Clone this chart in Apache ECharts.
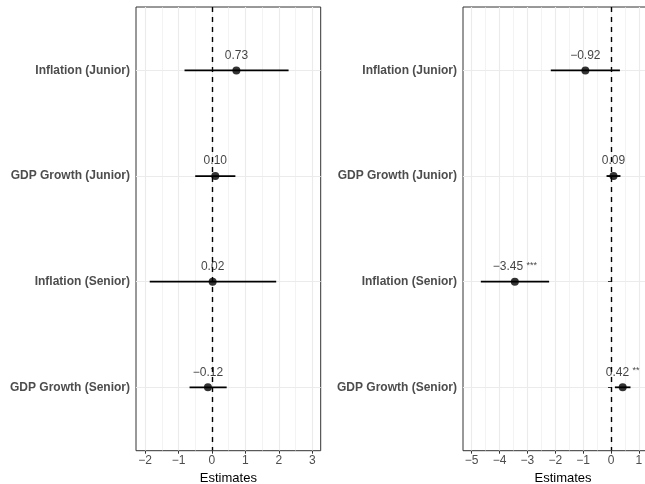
<!DOCTYPE html>
<html>
<head>
<meta charset="utf-8">
<script src="https://cdn.jsdelivr.net/npm/echarts@6/dist/echarts.min.js"></script>
<style>
html,body{margin:0;padding:0;background:#fff;}
#c{width:645px;height:484px;}
</style>
</head>
<body>
<div id="c"></div>
<script>
const categories = ['Inflation (Junior)', 'GDP Growth (Junior)', 'Inflation (Senior)', 'GDP Growth (Senior)'];
const leftEst = [0.73, 0.10, 0.02, -0.12];
const leftLow = [-0.82, -0.50, -1.86, -0.67];
const leftHigh = [2.29, 0.70, 1.92, 0.44];
const leftStars = ['', '', '', ''];
const rightEst = [-0.92, 0.09, -3.45, 0.42];
const rightLow = [-2.16, -0.16, -4.67, 0.14];
const rightHigh = [0.32, 0.34, -2.22, 0.70];
const rightStars = ['', '', '***', '**'];
const leftTicks = [-2, -1, 0, 1, 2, 3];
const rightTicks = [-5, -4, -3, -2, -1, 0, 1];
const xTitle = 'Estimates';

const FONT = '"Liberation Sans", Arial, sans-serif';
const catPos = categories.map((c, i) => i + 1);

function halfSteps(lo, hi) {
  const out = [];
  for (let v = Math.ceil(lo * 2) / 2; v <= hi + 1e-9; v += 0.5) out.push(+v.toFixed(2));
  return out;
}
function fmt(v) {
  const s = Math.abs(v).toFixed(2);
  return (v < 0 ? '\u2212' : '') + s;
}

const panels = [
  { est: leftEst, low: leftLow, high: leftHigh, stars: leftStars, ticks: leftTicks, min: -2.27, max: 3.25, minorMax: 3.25,
    grid: { left: 136, width: 184.7, top: 7, height: 443.7 } },
  { est: rightEst, low: rightLow, high: rightHigh, stars: rightStars, ticks: rightTicks, min: -5.31, max: 1.866, minorMax: 1.2,
    grid: { left: 463, width: 200, top: 7, height: 443.7 } }
];

const grids = [], xAxes = [], yAxes = [], series = [];
panels.forEach((p, gi) => {
  grids.push(Object.assign({ show: true, borderColor: '#333333', borderWidth: 1, backgroundColor: 'transparent',
    containLabel: false, outerBoundsMode: 'none' }, p.grid));
  // minor/half gridlines
  xAxes.push({
    type: 'value', gridIndex: gi, min: p.min, max: p.max, position: 'bottom',
    axisLine: { show: false }, axisLabel: { show: false },
    axisTick: { show: false, customValues: halfSteps(p.min, p.minorMax) },
    splitLine: { show: true, lineStyle: { color: '#EBEBEB', width: 0.6 } }
  });
  // major gridlines + ticks + labels
  xAxes.push({
    type: 'value', gridIndex: gi, min: p.min, max: p.max, position: 'bottom', offset: 0,
    name: xTitle, nameLocation: 'middle', nameGap: 20,
    nameTextStyle: { fontFamily: FONT, fontSize: 13, color: '#000' },
    axisLine: { show: false },
    axisTick: { show: true, length: 3, customValues: p.ticks, lineStyle: { color: '#333333', width: 1 } },
    axisLabel: { show: true, customValues: p.ticks, margin: 4, fontFamily: FONT, fontSize: 12, color: '#4D4D4D',
      formatter: v => (v < 0 ? '\u2212' + Math.abs(v) : String(v)) },
    splitLine: { show: true, lineStyle: { color: '#EBEBEB', width: 1.1 } }
  });
  yAxes.push({
    type: 'value', gridIndex: gi, min: 0.4, max: 4.6, inverse: true,
    axisLine: { show: false },
    axisTick: { show: true, length: 3, customValues: catPos, lineStyle: { color: '#333333', width: 1 } },
    axisLabel: { show: true, customValues: catPos, margin: 6, fontFamily: FONT, fontSize: 12, fontWeight: 'bold', color: '#4D4D4D',
      formatter: v => categories[Math.round(v) - 1] || '' },
    splitLine: { show: true, lineStyle: { color: '#EBEBEB', width: 1.1 } }
  });
  const xi = gi * 2 + 1;
  // zero reference line
  series.push({
    type: 'line', xAxisIndex: xi, yAxisIndex: gi, data: [], silent: true,
    markLine: { silent: true, symbol: 'none', label: { show: false },
      lineStyle: { color: '#000', type: [5, 5], width: 1.4 }, data: [{ xAxis: 0 }] },
    z: 3
  });
  // CI lines
  series.push({
    type: 'custom', xAxisIndex: xi, yAxisIndex: gi, z: 4,
    data: categories.map((c, i) => [p.low[i], p.high[i], i + 1]),
    renderItem: (params, api) => {
      const a = api.coord([api.value(0), api.value(2)]);
      const b = api.coord([api.value(1), api.value(2)]);
      return { type: 'line', shape: { x1: a[0], y1: a[1], x2: b[0], y2: b[1] },
        style: { stroke: '#000', lineWidth: 1.8 } };
    },
    encode: { x: [0, 1], y: 2 }
  });
  // points with labels
  series.push({
    type: 'scatter', xAxisIndex: xi, yAxisIndex: gi, z: 5,
    symbol: 'circle', symbolSize: 8,
    itemStyle: { color: '#000' },
    data: categories.map((c, i) => ({ value: [p.est[i], i + 1] })),
    label: {
      show: true, position: 'top', distance: 5,
      fontFamily: FONT, fontSize: 12, color: '#111',
      formatter: params => {
        const st = p.stars[params.dataIndex];
        return '{v|' + fmt(params.value[0]) + '}' + (st ? ' {s|' + st + '}' : '');
      },
      rich: {
        v: { fontFamily: FONT, fontSize: 12, color: '#111', verticalAlign: 'bottom' },
        s: { fontFamily: FONT, fontSize: 9, color: '#111', verticalAlign: 'top' }
      }
    }
  });
});

const chart = echarts.init(document.getElementById('c'), null, { renderer: 'canvas' });
chart.setOption({
  animation: false,
  backgroundColor: '#fff',
  grid: grids, xAxis: xAxes, yAxis: yAxes, series: series
});
</script>
</body>
</html>
